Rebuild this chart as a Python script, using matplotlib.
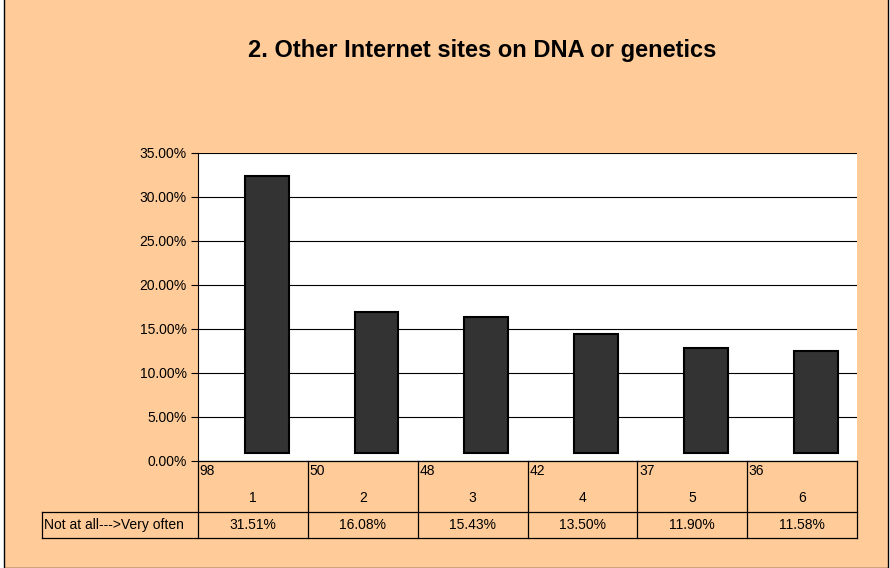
import matplotlib
matplotlib.use("Agg")
from matplotlib import pyplot as plt
from matplotlib.patches import Rectangle

plt.rcParams['font.family'] = ['Liberation Sans', 'DejaVu Sans']

title = "2. Other Internet sites on DNA or genetics"
categories = ["1", "2", "3", "4", "5", "6"]
counts = ["98", "50", "48", "42", "37", "36"]
percents = [31.51, 16.08, 15.43, 13.50, 11.90, 11.58]
row_label = "Not at all--->Very often"
bar_base = 0.9  # bars float a little above the axis in the original
bar_shift = 0.125  # and sit a little right of the category centre

peach = "#FFCC99"
bar_color = "#333333"

W, H = 890, 568
fig = plt.figure(figsize=(W / 100, H / 100), dpi=100, facecolor="white")

# chart background with frame
fig.patches.append(Rectangle((4 / W, 0), (888 - 4) / W, (H - 1) / H + 0.01,
                             transform=fig.transFigure, facecolor=peach,
                             edgecolor="black", linewidth=1.0, zorder=-5))

fig.text(482 / W, 1 - 50 / H, title, ha="center", va="center",
         fontsize=17, fontweight="bold")

# plot area
x0, x1, ytop, y0 = 198, 857, 153, 461
ax = fig.add_axes([x0 / W, (H - y0) / H, (x1 - x0) / W, (y0 - ytop) / H])
ax.set_facecolor("white")
xs = list(range(len(categories)))
ax.bar([x + bar_shift for x in xs], percents, bottom=bar_base, width=0.4,
       color=bar_color, edgecolor="black", linewidth=1.5, zorder=3)
ax.set_xlim(-0.5, len(categories) - 0.5)
ax.set_ylim(0, 35)
yt = [0, 5, 10, 15, 20, 25, 30, 35]
ax.set_yticks(yt)
ax.set_yticklabels(["%.2f%%" % v for v in yt], fontsize=10)
ax.tick_params(axis="y", length=5, width=0.8, pad=3, direction="out")
ax.set_xticks([])
ax.grid(axis="y", color="black", linewidth=0.8, zorder=1)
for s in ["top", "right", "bottom"]:
    ax.spines[s].set_visible(False)
ax.spines["left"].set_linewidth(0.8)

# data table below
t_mid, t_bot = 512, 538
tab = fig.add_axes([x0 / W, (H - t_bot) / H, (x1 - x0) / W, (t_bot - y0) / H])
tab.set_xlim(-0.5, len(categories) - 0.5)
tab.set_ylim(t_bot, y0)
tab.axis("off")
lw = 0.9
label_w = (198 - 42) / ((x1 - x0) / len(categories))
left = -0.5 - label_w
right = len(categories) - 0.5
tab.plot([-0.5, right], [y0, y0], color="black", lw=lw, clip_on=False)
tab.plot([left, right], [t_mid, t_mid], color="black", lw=lw, clip_on=False)
tab.plot([left, right], [t_bot, t_bot], color="black", lw=lw, clip_on=False)
tab.plot([left, left], [t_mid, t_bot], color="black", lw=lw, clip_on=False)
for i in range(len(categories) + 1):
    tab.plot([i - 0.5, i - 0.5], [y0, t_bot], color="black", lw=lw, clip_on=False)
for i, c in enumerate(categories):
    tab.text(i - 0.485, 471, counts[i], ha="left", va="center", fontsize=10)
    tab.text(i, 498, c, ha="center", va="center", fontsize=10)
    tab.text(i, 525, "%.2f%%" % percents[i], ha="center", va="center", fontsize=10)
tab.text(left + 0.02, 525, row_label, ha="left", va="center", fontsize=10)

fig.savefig("out.png", dpi=100, facecolor="white")
